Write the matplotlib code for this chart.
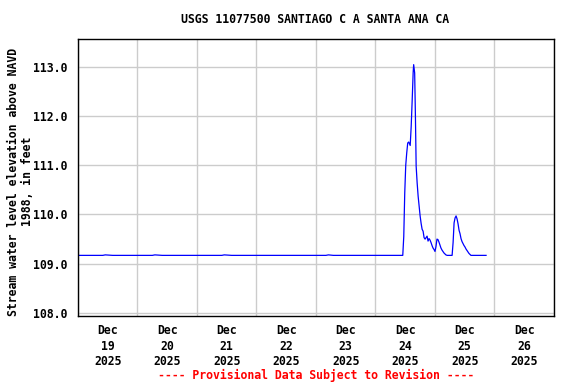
import matplotlib
matplotlib.use("Agg")
import matplotlib.pyplot as plt
import pandas as pd

# hours since 2025-12-19 00:00 and gage height (ft)
hours = [0.0, 10.0, 11.0, 14.0, 30.0, 31.0, 34.0, 58.0, 59.0, 62.0, 100.0, 101.0,
         103.0, 131.0, 131.4, 131.8, 132.2, 132.6, 133.0, 133.4, 134.0, 134.4,
         134.8, 135.2, 135.4, 135.8, 136.1, 136.4, 136.8, 137.2, 137.6, 138.0,
         138.4, 138.8, 139.2, 139.6, 140.0, 140.4, 140.8, 141.2, 141.6, 142.0,
         142.4, 142.8, 143.2, 143.6, 144.0, 144.4, 144.8, 145.2, 145.6, 146.0,
         146.4, 146.8, 147.2, 147.6, 148.0, 148.4, 148.9, 150.9, 151.3, 151.7,
         152.1, 152.5, 152.9, 153.3, 153.7, 154.1, 154.5, 154.9, 155.3, 155.7,
         156.1, 156.5, 156.9, 157.3, 157.7, 158.1, 158.5, 164.6]
stage = [109.17, 109.17, 109.18, 109.17, 109.17, 109.18, 109.17, 109.17, 109.18,
         109.17, 109.17, 109.18, 109.17, 109.17, 109.55, 110.44, 111.00, 111.25,
         111.45, 111.47, 111.40, 111.79, 112.32, 112.89, 113.04, 112.87, 112.00,
         110.98, 110.64, 110.37, 110.17, 109.97, 109.82, 109.70, 109.66, 109.53,
         109.50, 109.53, 109.56, 109.46, 109.51, 109.48, 109.43, 109.37, 109.32,
         109.29, 109.25, 109.35, 109.50, 109.49, 109.44, 109.38, 109.32, 109.28,
         109.25, 109.22, 109.20, 109.18, 109.17, 109.17, 109.43, 109.83, 109.93,
         109.97, 109.91, 109.81, 109.68, 109.61, 109.51, 109.45, 109.41, 109.37,
         109.34, 109.30, 109.27, 109.24, 109.21, 109.19, 109.17, 109.17]

y_ticks = [108.0, 109.0, 110.0, 111.0, 112.0, 113.0]
start = pd.Timestamp("2025-12-19")
days = pd.date_range("2025-12-19", periods=9, freq="D")

times = start + pd.to_timedelta(hours, unit="h")

font = {"family": "DejaVu Sans Mono", "weight": "bold", "size": 8.3}

fig = plt.figure(figsize=(5.76, 3.84), dpi=100)
ax = fig.add_axes([0.1354, 0.1771, 0.8264, 0.7213])

ax.plot(times, stage, color="#0000ff", lw=0.9)

ax.set_xlim(days[0], days[-1])
ax.set_ylim(107.94, 113.56)

ax.set_yticks(y_ticks)
ax.set_yticklabels([f"{v:.1f}" for v in y_ticks], fontdict=font)
ax.set_xticks(days)
ax.set_xticklabels([])
noon = days[:-1] + pd.Timedelta(hours=12)
ax.set_xticks(noon, minor=True)
ax.set_xticklabels([d.strftime("%b\n%d\n%Y") for d in noon], minor=True,
                   fontdict=font, linespacing=1.25)
ax.tick_params(axis="both", which="both", length=0, pad=6)
ax.tick_params(axis="y", pad=8)

ax.grid(True, which="major", color="#cccccc", lw=1.0)
ax.set_axisbelow(True)
for s in ax.spines.values():
    s.set_linewidth(1.0)
    s.set_color("black")

# y label placed by hand, like the USGS plot
fig.text(0.036, 0.527, "Stream water level elevation above NAVD\n1988, in feet",
         rotation=90, ha="center", va="center", linespacing=1.1, **font)

fig.text(0.547, 0.950, "USGS 11077500 SANTIAGO C A SANTA ANA CA",
         ha="center", va="center", **font)
fig.text(0.548, 0.023, "---- Provisional Data Subject to Revision ----",
         ha="center", va="center", color="red", **font)

fig.savefig("out.png", dpi=100)
